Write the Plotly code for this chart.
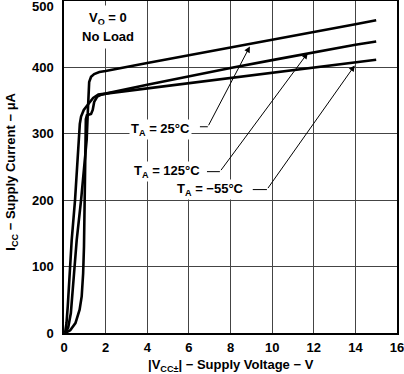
import plotly.graph_objects as go

# Supply voltage (V) and supply current (uA) per temperature curve
v_25 = [0.05, 0.2, 0.33, 0.45, 0.52, 0.61, 0.82, 1.09, 1.14, 1.17, 1.21, 1.3, 1.45, 1.7, 2, 4, 6, 8, 10, 12, 14, 15]
i_25 = [0, 8, 30, 75, 105, 140, 200, 291, 330, 360, 378, 386, 390, 393, 394.5, 406.5, 418, 430, 442, 453, 465, 471]

v_125 = [0.05, 0.12, 0.18, 0.29, 0.37, 0.53, 0.69, 0.76, 0.82, 0.95, 1.17, 1.4, 1.65, 2, 4, 6, 8, 10, 12, 14, 15]
i_125 = [0, 15, 40, 100, 140, 200, 291, 315, 326, 336, 345, 354, 359, 360.5, 374, 387, 399, 411, 423, 434, 439]

v_m55 = [0.05, 0.3, 0.55, 0.75, 0.85, 0.92, 0.96, 0.99, 1.02, 1.05, 1.1, 1.3, 1.38, 1.45, 1.6, 1.8, 2, 4, 6, 8, 10, 12, 14, 15]
i_m55 = [0, 4, 15, 35, 55, 90, 130, 200, 290, 322, 328, 330, 336, 348, 356, 359, 360.5, 368.5, 376.5, 384, 392, 400, 408, 411.6]

x_ticks = [0, 2, 4, 6, 8, 10, 12, 14, 16]
y_ticks = [0, 100, 200, 300, 400, 500]

FONT = "Liberation Sans, Arial, sans-serif"

fig = go.Figure()
for v, i in [(v_25, i_25), (v_125, i_125), (v_m55, i_m55)]:
    fig.add_trace(go.Scatter(x=v, y=i, mode="lines",
                             line=dict(color="black", width=2.6),
                             showlegend=False, hoverinfo="skip"))

axis_common = dict(showgrid=True, gridcolor="#444444", gridwidth=1,
                   showline=True, linecolor="black", linewidth=1.5, mirror=True,
                   zeroline=False, ticks="", ticklen=0, automargin=False,
                   ticklabeloverflow="allow",
                   tickfont=dict(family=FONT, size=13, color="black", weight="bold"))

fig.update_xaxes(range=[0, 16], tickvals=x_ticks, ticktext=[str(t) for t in x_ticks],
                 ticklabelstandoff=2, **axis_common)
fig.update_yaxes(range=[0, 500], tickvals=y_ticks,
                 ticktext=[str(t) if t != 500 else "" for t in y_ticks],
                 ticklabelstandoff=6, **axis_common)

ann_font = dict(family=FONT, size=13, color="black", weight="bold")
annotations = [
    dict(x=0, y=500, xref="paper", yref="y", text="500", showarrow=False,
         xanchor="right", yanchor="middle", xshift=-8, yshift=-5, font=ann_font),
    dict(x=0.5, y=0, xref="paper", yref="paper", text="|V<sub>CC±</sub>| − Supply Voltage − V",
         showarrow=False, xanchor="center", yanchor="middle", yshift=-32, font=ann_font),
    dict(x=0, y=0.486, xref="paper", yref="paper", text="I<sub>CC</sub> − Supply Current − μA",
         showarrow=False, textangle=-90, xanchor="center", yanchor="middle", xshift=-52,
         font=ann_font),
    dict(x=2.1, y=474, xref="x", yref="y", text="V<sub>O</sub> = 0",
         showarrow=False, bgcolor="white", font=ann_font, borderpad=4),
    dict(x=2.1, y=446, xref="x", yref="y", text="No Load",
         showarrow=False, bgcolor="white", font=ann_font, borderpad=4),
    dict(x=4.66, y=306, xref="x", yref="y", text="T<sub>A</sub> = 25°C",
         showarrow=False, bgcolor="white", font=ann_font),
    dict(x=4.94, y=243, xref="x", yref="y", text="T<sub>A</sub> = 125°C",
         showarrow=False, bgcolor="white", font=ann_font),
    dict(x=7.06, y=216, xref="x", yref="y", text="T<sub>A</sub> = −55°C",
         showarrow=False, bgcolor="white", font=ann_font),
]
# arrows (head point, tail point)
arrows = [((8.93, 431.6), (6.91, 310.6)),
          ((11.71, 421.7), (7.49, 243)),
          ((13.97, 403), (9.75, 216))]
for (hx, hy), (tx, ty) in arrows:
    annotations.append(dict(x=hx, y=hy, xref="x", yref="y", ax=tx, ay=ty,
                            axref="x", ayref="y", text="", showarrow=True,
                            arrowhead=2, arrowsize=1.2, arrowwidth=1, arrowcolor="black"))

shapes = [
    dict(type="line", xref="x", yref="y", x0=6.53, x1=6.91, y0=310.6, y1=310.6,
         line=dict(color="black", width=1)),
    dict(type="line", xref="x", yref="y", x0=6.87, x1=7.49, y0=243, y1=243,
         line=dict(color="black", width=1)),
    dict(type="line", xref="x", yref="y", x0=9.07, x1=9.75, y0=216, y1=216,
         line=dict(color="black", width=1)),
]

fig.update_layout(width=404, height=374, margin=dict(l=64, r=7, t=1, b=41),
                  paper_bgcolor="white", plot_bgcolor="white",
                  annotations=annotations, shapes=shapes,
                  font=dict(family=FONT, size=13, color="black"))

fig.write_html("out.html", config={"displayModeBar": False},
               post_script="document.body.style.margin='0';")
